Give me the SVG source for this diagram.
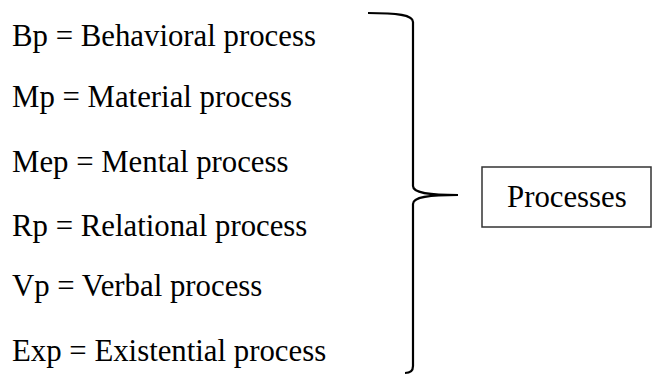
<svg xmlns="http://www.w3.org/2000/svg" width="653" height="375" viewBox="0 0 653 375">
<style>
text{font-family:"Liberation Serif","Times New Roman",serif;font-size:30.8px;fill:#000}
.br{fill:none;stroke:#000;stroke-width:2.2}
.box{fill:#fff;stroke:#333;stroke-width:1.5}
</style>
<rect width="653" height="375" fill="#fff"/>
<g id="labels">
<text x="12" y="46">Bp = Behavioral process</text>
<text x="12" y="107">Mp = Material process</text>
<text x="12" y="172">Mep = Mental process</text>
<text x="12" y="236">Rp = Relational process</text>
<text x="12" y="296">Vp = Verbal process</text>
<text x="12" y="361">Exp = Existential process</text>
</g>
<g id="connectors">
<path class="br" d="M368,13 C398,13 413,15 413,22 L413,186 C413,193 428,195 458,195 C428,195 413,197 413,204 L413,366 C413,371 410,373 405,373"/>
</g>
<g id="processes">
<rect class="box" x="482" y="167" width="169" height="60"/>
<text x="507" y="207">Processes</text>
</g>
</svg>
